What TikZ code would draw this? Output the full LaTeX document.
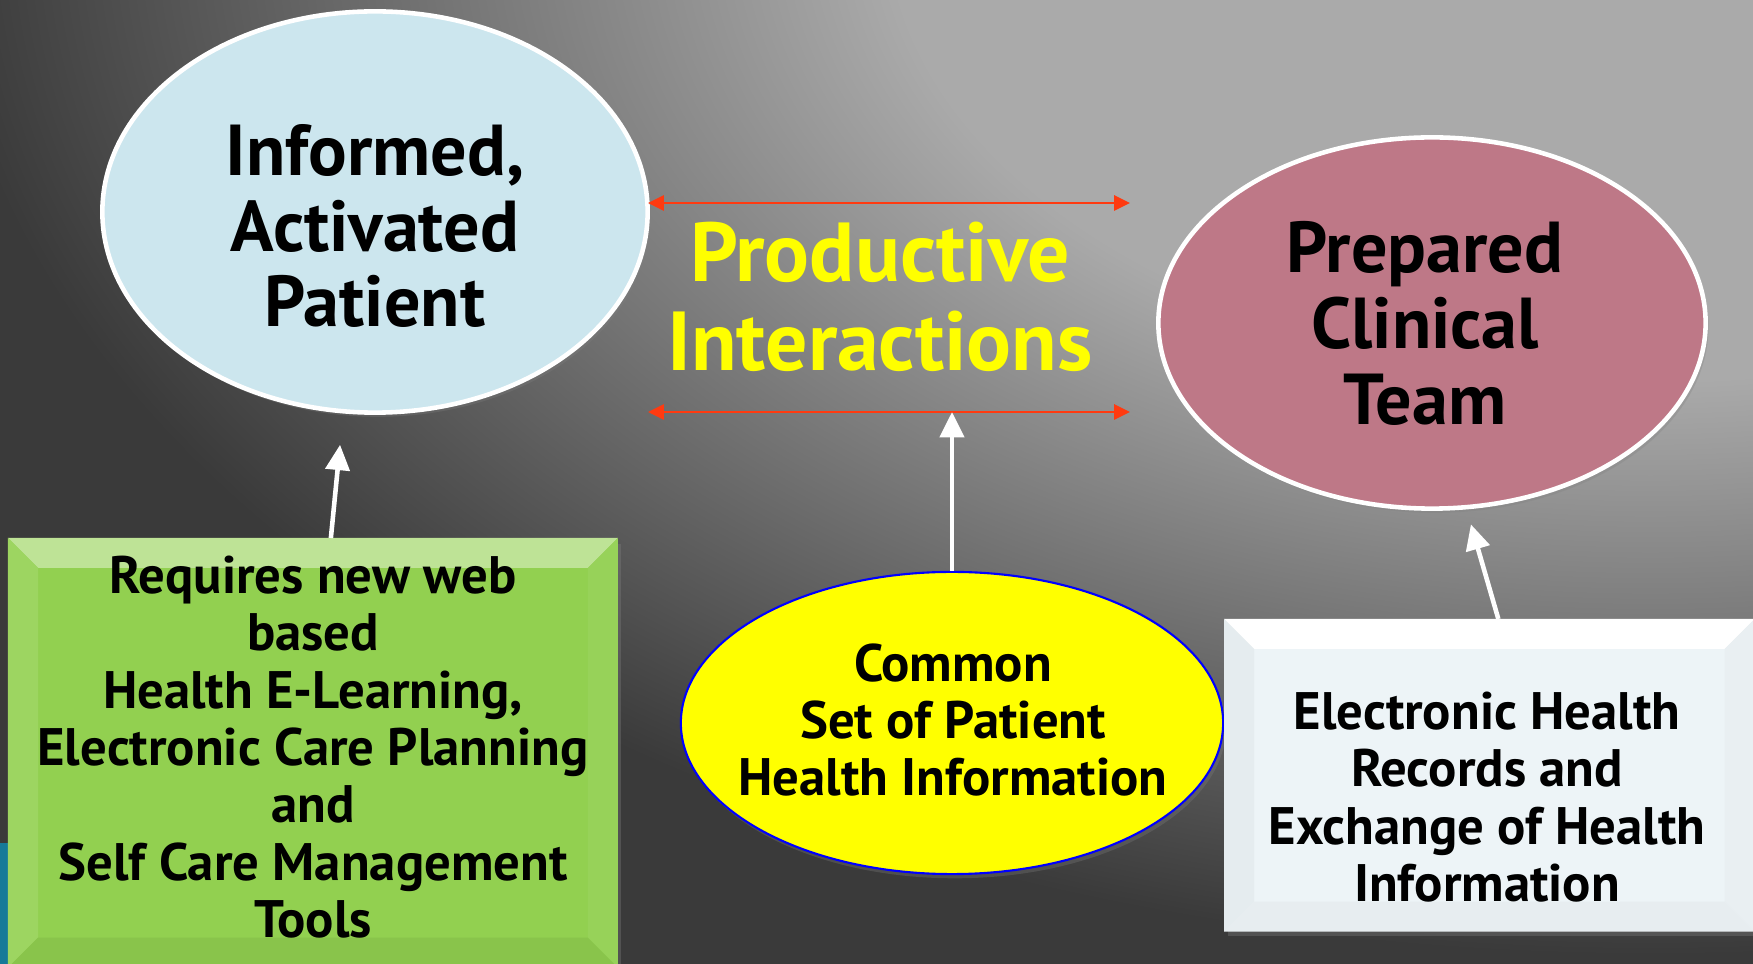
\documentclass[tikz,border=0pt]{standalone}
\usepackage{fontspec}
\setmainfont{PT Sans}
\usetikzlibrary{shapes.geometric,arrows.meta,shadows}

\definecolor{bglight}{RGB}{170,170,170}
\definecolor{bgdark}{RGB}{58,58,58}
\definecolor{patblue}{RGB}{204,230,238}
\definecolor{teamrose}{RGB}{190,120,135}
\definecolor{toolgreen}{RGB}{146,208,80}
\definecolor{ehrwhite}{RGB}{237,244,247}
\definecolor{linkred}{RGB}{255,58,16}
\definecolor{piyellow}{RGB}{255,255,0}
\definecolor{sliver}{RGB}{22,122,152}

\pgfdeclareradialshading{bgshade}{\pgfpointorigin}{color(0bp)=(bglight); color(10bp)=(bglight); color(22.5bp)=(bgdark); color(50bp)=(bgdark)}

\newcommand{\bevel}{30}
\newcommand{\bigfont}{\fontsize{23.8}{25.3}\selectfont\bfseries}
\newcommand{\midfont}{\fontsize{20.5}{21.6}\selectfont\bfseries}
\newcommand{\smallfont}{\fontsize{15}{16.3}\selectfont\bfseries}

\tikzset{
  oval/.style={ellipse, draw=white, line width=1.3pt, inner sep=0pt,
    drop shadow={opacity=0.3, shadow xshift=0.8pt, shadow yshift=-1.2pt}},
  plate/.style={rectangle, anchor=north west, inner sep=0pt,
    drop shadow={opacity=0.35, shadow xshift=1pt, shadow yshift=-1.5pt}},
  caption/.style={align=center, inner sep=0pt},
  whitearrow/.style={draw=white, line width=1.3pt, -{Triangle[width=6.8pt,length=7.2pt]}},
  redarrow/.style={draw=linkred, line width=0.7pt,
    {Triangle[width=4.3pt,length=4.5pt]}-{Triangle[width=4.3pt,length=4.5pt]}},
}

\begin{document}
\begin{tikzpicture}[x=0.01cm, y=-0.01cm]
  \clip (0,0) rectangle (1753,964);
  \fill[bgdark] (0,0) rectangle (1753,964);
  \shade[shading=bgshade] (1650,-80) ellipse [x radius=1900, y radius=1150];
  \fill[sliver] (0,843) rectangle (9,964);

  % the three ovals
  \node (pat) at (375,212) [oval, fill=patblue, minimum width=5.45cm, minimum height=4.01cm] {};
  \node (team) at (1432,323) [oval, fill=teamrose, minimum width=5.47cm, minimum height=3.71cm] {};
  \node (yel) at (952,723) [oval, fill=piyellow, draw=blue, line width=0.6pt,
    minimum width=5.42cm, minimum height=3.02cm] {};

  % the two plates
  \node (req) at (8,538) [plate, fill=toolgreen, minimum width=6.08cm, minimum height=4.28cm] {};
  \node (ehr) at (1224,619) [plate, fill=ehrwhite, minimum width=5.29cm, minimum height=3.11cm] {};

  \foreach \b/\tp/\lf/\rt/\bt in {req/{toolgreen!60!white}/{toolgreen!90!white}/{toolgreen!95!white}/{toolgreen!94!black},
                                  ehr/{white}/{ehrwhite!93!gray}/{ehrwhite!96!gray}/{ehrwhite!94!gray}}
  {
    \fill[\tp] (\b.north west) -- (\b.north east) -- ([shift={(-\bevel,\bevel)}]\b.north east)
      -- ([shift={(\bevel,\bevel)}]\b.north west) -- cycle;
    \fill[\lf] (\b.north west) -- ([shift={(\bevel,\bevel)}]\b.north west)
      -- ([shift={(\bevel,-\bevel)}]\b.south west) -- (\b.south west) -- cycle;
    \fill[\rt] (\b.north east) -- ([shift={(-\bevel,\bevel)}]\b.north east)
      -- ([shift={(-\bevel,-\bevel)}]\b.south east) -- (\b.south east) -- cycle;
    \fill[\bt] (\b.south west) -- ([shift={(\bevel,-\bevel)}]\b.south west)
      -- ([shift={(-\bevel,-\bevel)}]\b.south east) -- (\b.south east) -- cycle;
  }

  % texts
  \node (pattxt) at (375,226) [caption, font=\midfont] {Informed,\\Activated\\Patient};
  \node (teamtxt) at (1425,323) [caption, font=\midfont] {Prepared\\Clinical\\Team};
  \node (pi) at (880,297) [caption, font=\bigfont, text=piyellow] {Productive\\Interactions};
  \node (yeltxt) at (953,720) [caption, font=\smallfont] {Common\\Set of Patient\\Health Information};
  \node (reqtxt) at (313,747) [caption, font=\smallfont]
    {Requires new web\\based\\Health E-Learning,\\Electronic Care Planning\\and\\Self Care Management\\Tools};
  \node (ehrtxt) at (1487,797) [caption, font=\smallfont]
    {Electronic Health\\Records and\\Exchange of Health\\Information};

  % connectors
  \coordinate (topL) at (648,203);
  \coordinate (topR) at (1130,203);
  \coordinate (botL) at (648,412);
  \coordinate (botR) at (1130,412);
  \draw[redarrow] (topL) -- (topR);
  \draw[redarrow] (botL) -- (botR);

  \draw[whitearrow, shorten >=0.3cm] ([shift={(18,0)}]req.north) -- ([shift={(-32,0)}]pat.south);
  \draw[whitearrow] (yel.north) -- (yel.north |- botL);
  \draw[whitearrow, shorten >=0.14cm] ([shift={(9,0)}]ehr.north) -- ([shift={(35,0)}]team.south);
\end{tikzpicture}
\end{document}
